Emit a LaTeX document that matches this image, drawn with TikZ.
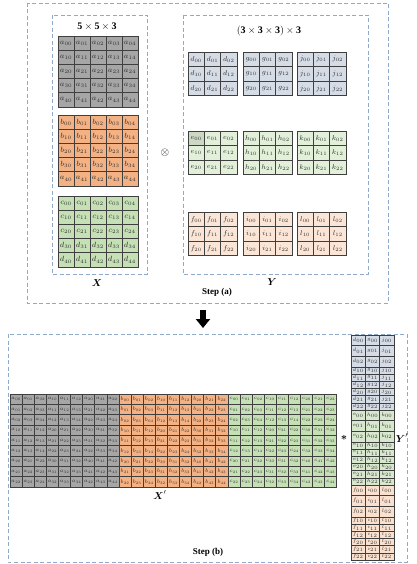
\documentclass[tikz,border=0pt]{standalone}
\usepackage{fix-cm}
\usepackage{amsmath}
\usepackage{fontspec}
\setmainfont{Liberation Serif}
\usetikzlibrary{arrows.meta}
\definecolor{dashc}{HTML}{8FAACB}
\definecolor{cgray}{HTML}{A6A6A6}
\definecolor{corange}{HTML}{F4B183}
\definecolor{cgreen}{HTML}{C5E0B4}
\definecolor{cblue}{HTML}{D6DCE5}
\definecolor{clgreen}{HTML}{E2F0D9}
\definecolor{cmgreen}{HTML}{D8E8CE}
\definecolor{cpink}{HTML}{FBE5D6}
\definecolor{cmpink}{HTML}{F9E0CF}
\definecolor{chigh}{HTML}{CCD8C4}
\definecolor{cline}{HTML}{3F3F3F}
\definecolor{ctext}{HTML}{303030}
\tikzset{
  dbox/.style={draw=dashc, line width=0.9pt, dash pattern=on 4pt off 2.5pt},
  cellbase/.style={draw=cline, inner sep=0pt, outer sep=0pt, text=ctext},
  xcell/.style={cellbase, line width=0.7pt, minimum width=16pt, minimum height=14.2pt, font=\fontsize{7.5}{8}\selectfont},
  ycell/.style={cellbase, line width=0.7pt, minimum width=16.3pt, minimum height=14.6pt, font=\fontsize{7}{8}\selectfont},
  xpcell/.style={cellbase, line width=0.45pt, minimum width=12.1pt, minimum height=10.33pt, font=\fontsize{5.3}{6}\selectfont},
  ypcell/.style={cellbase, line width=0.45pt, minimum width=14.33pt, font=\fontsize{5}{5}\selectfont},
  title/.style={font=\fontsize{10}{12}\selectfont},
  steplabel/.style={font=\fontsize{9}{11}\selectfont\bfseries},
  varlabel/.style={font=\fontsize{10}{12}\selectfont},
}
\begin{document}
\begin{tikzpicture}[x=1pt,y=-1pt]
\useasboundingbox (0,0) rectangle (416,564);

% ---------- Step (a) ----------
\draw[dbox] (27,3) rectangle (388,303);
\draw[dbox] (52,15) rectangle (147,274);
\draw[dbox] (183,15) rectangle (368,274);

\node[title] (tX) at (97,27) {$\mathbf{5\times 5\times 3}$};
\node[title] (tY) at (269,31) {$\mathbf{(3\times 3\times 3)\times 3}$};

% X grids
\foreach \r in {0,...,4}{
  \foreach \c in {0,...,4}{
    \node[xcell, fill=cgray] (Xa\r\c) at ({66+16*\c},{43.1+14.2*\r}) {$a_{\r\c}$};
  }
}
\foreach \r/\L in {0/b,1/b,2/b,3/b,4/a}{
  \foreach \c in {0,...,4}{
    \node[xcell, fill=corange] (Xb\r\c) at ({66+16*\c},{122.1+14.2*\r}) {$\L_{\r\c}$};
  }
}
\foreach \r/\L in {0/c,1/c,2/c,3/d,4/d}{
  \foreach \c in {0,...,4}{
    \node[xcell, fill=cgreen] (Xc\r\c) at ({66+16*\c},{203.1+14.2*\r}) {$\L_{\r\c}$};
  }
}

\node (otimes) at (165,153) {\fontsize{11}{12}\selectfont$\otimes$};

% Y grids
\foreach \L/\gx/\gy/\col in {d/188/52/cblue, g/243/52/cblue, j/297/52/cblue,
                            e/188/131/clgreen, h/243/131/clgreen, k/297/131/clgreen,
                            f/188/212/cpink, i/243/212/cpink, l/297/212/cpink}{
  \foreach \r in {0,1,2}{
    \foreach \c in {0,1,2}{
      \node[ycell, fill=\col] (Y\L\r\c) at ({\gx+8.15+16.3*\c},{\gy+7.3+14.6*\r}) {$\L_{\r\c}$};
    }
  }
}
\node[ycell, fill=chigh] (Ye00h) at (Ye00) {$e_{00}$};

\node[varlabel] (lX) at (97,283) {$\boldsymbol{X}$};
\node[varlabel] (lY) at (272,282) {$\boldsymbol{Y}$};
\node[steplabel] (sa) at (217,292) {Step (a)};

% arrow
\coordinate (arrS) at (203,310);
\coordinate (arrE) at (203,328);
\draw[line width=5.5pt, -{Triangle[width=14pt,length=9pt]}] (arrS) -- (arrE);

% ---------- Step (b) ----------
\draw[dbox] (8,334) rectangle (407,562);

% X' matrix
\foreach \L/\col [count=\bi from 0] in {a/cgray,b/corange,c/cgreen}{
  \foreach \i in {0,1,2}{
    \foreach \j in {0,1,2}{
      \foreach \p in {0,1,2}{
        \foreach \q in {0,1,2}{
          \pgfmathtruncatemacro{\R}{3*\i+\j}
          \pgfmathtruncatemacro{\C}{9*\bi+3*\p+\q}
          \pgfmathtruncatemacro{\sa}{\i+\p}
          \pgfmathtruncatemacro{\sb}{\j+\q}
          \node[xpcell, fill=\col] (XP\R-\C) at ({16.05+12.1*\C},{399.17+10.33*\R}) {$\L_{\sa\sb}$};
        }
      }
    }
  }
}
\node[varlabel] (lXp) at (160,495) {$\boldsymbol{X}'$};

% Y' column
\foreach \A/\B/\D/\col [count=\bi from 0] in {d/g/j/cblue, e/h/k/cmgreen, f/i/l/cmpink}{
  \foreach \s/\t/\h in {00/0/10.6, 01/10.6/10.6, 02/21.2/10.6, 10/31.8/7.2, 11/39/7.2, 12/46.2/7.2, 20/53.4/7.2, 21/60.6/7.2, 22/67.8/7.2}{
    \node[ypcell, fill=\col, minimum height=\h pt] (YP\A\s) at (358.17,{335+75*\bi+\t+\h/2}) {$\A_{\s}$};
    \node[ypcell, fill=\col, minimum height=\h pt] (YP\B\s) at (372.5,{335+75*\bi+\t+\h/2}) {$\B_{\s}$};
    \node[ypcell, fill=\col, minimum height=\h pt] (YP\D\s) at (386.83,{335+75*\bi+\t+\h/2}) {$\D_{\s}$};
  }
}
\node (star) at (344,438) {\fontsize{11}{12}\selectfont$\boldsymbol{\ast}$};
\node[varlabel] (lYp) at (402,438) {$\boldsymbol{Y}'$};
\node[steplabel] (sb) at (208,552) {Step (b)};
\end{tikzpicture}
\end{document}
